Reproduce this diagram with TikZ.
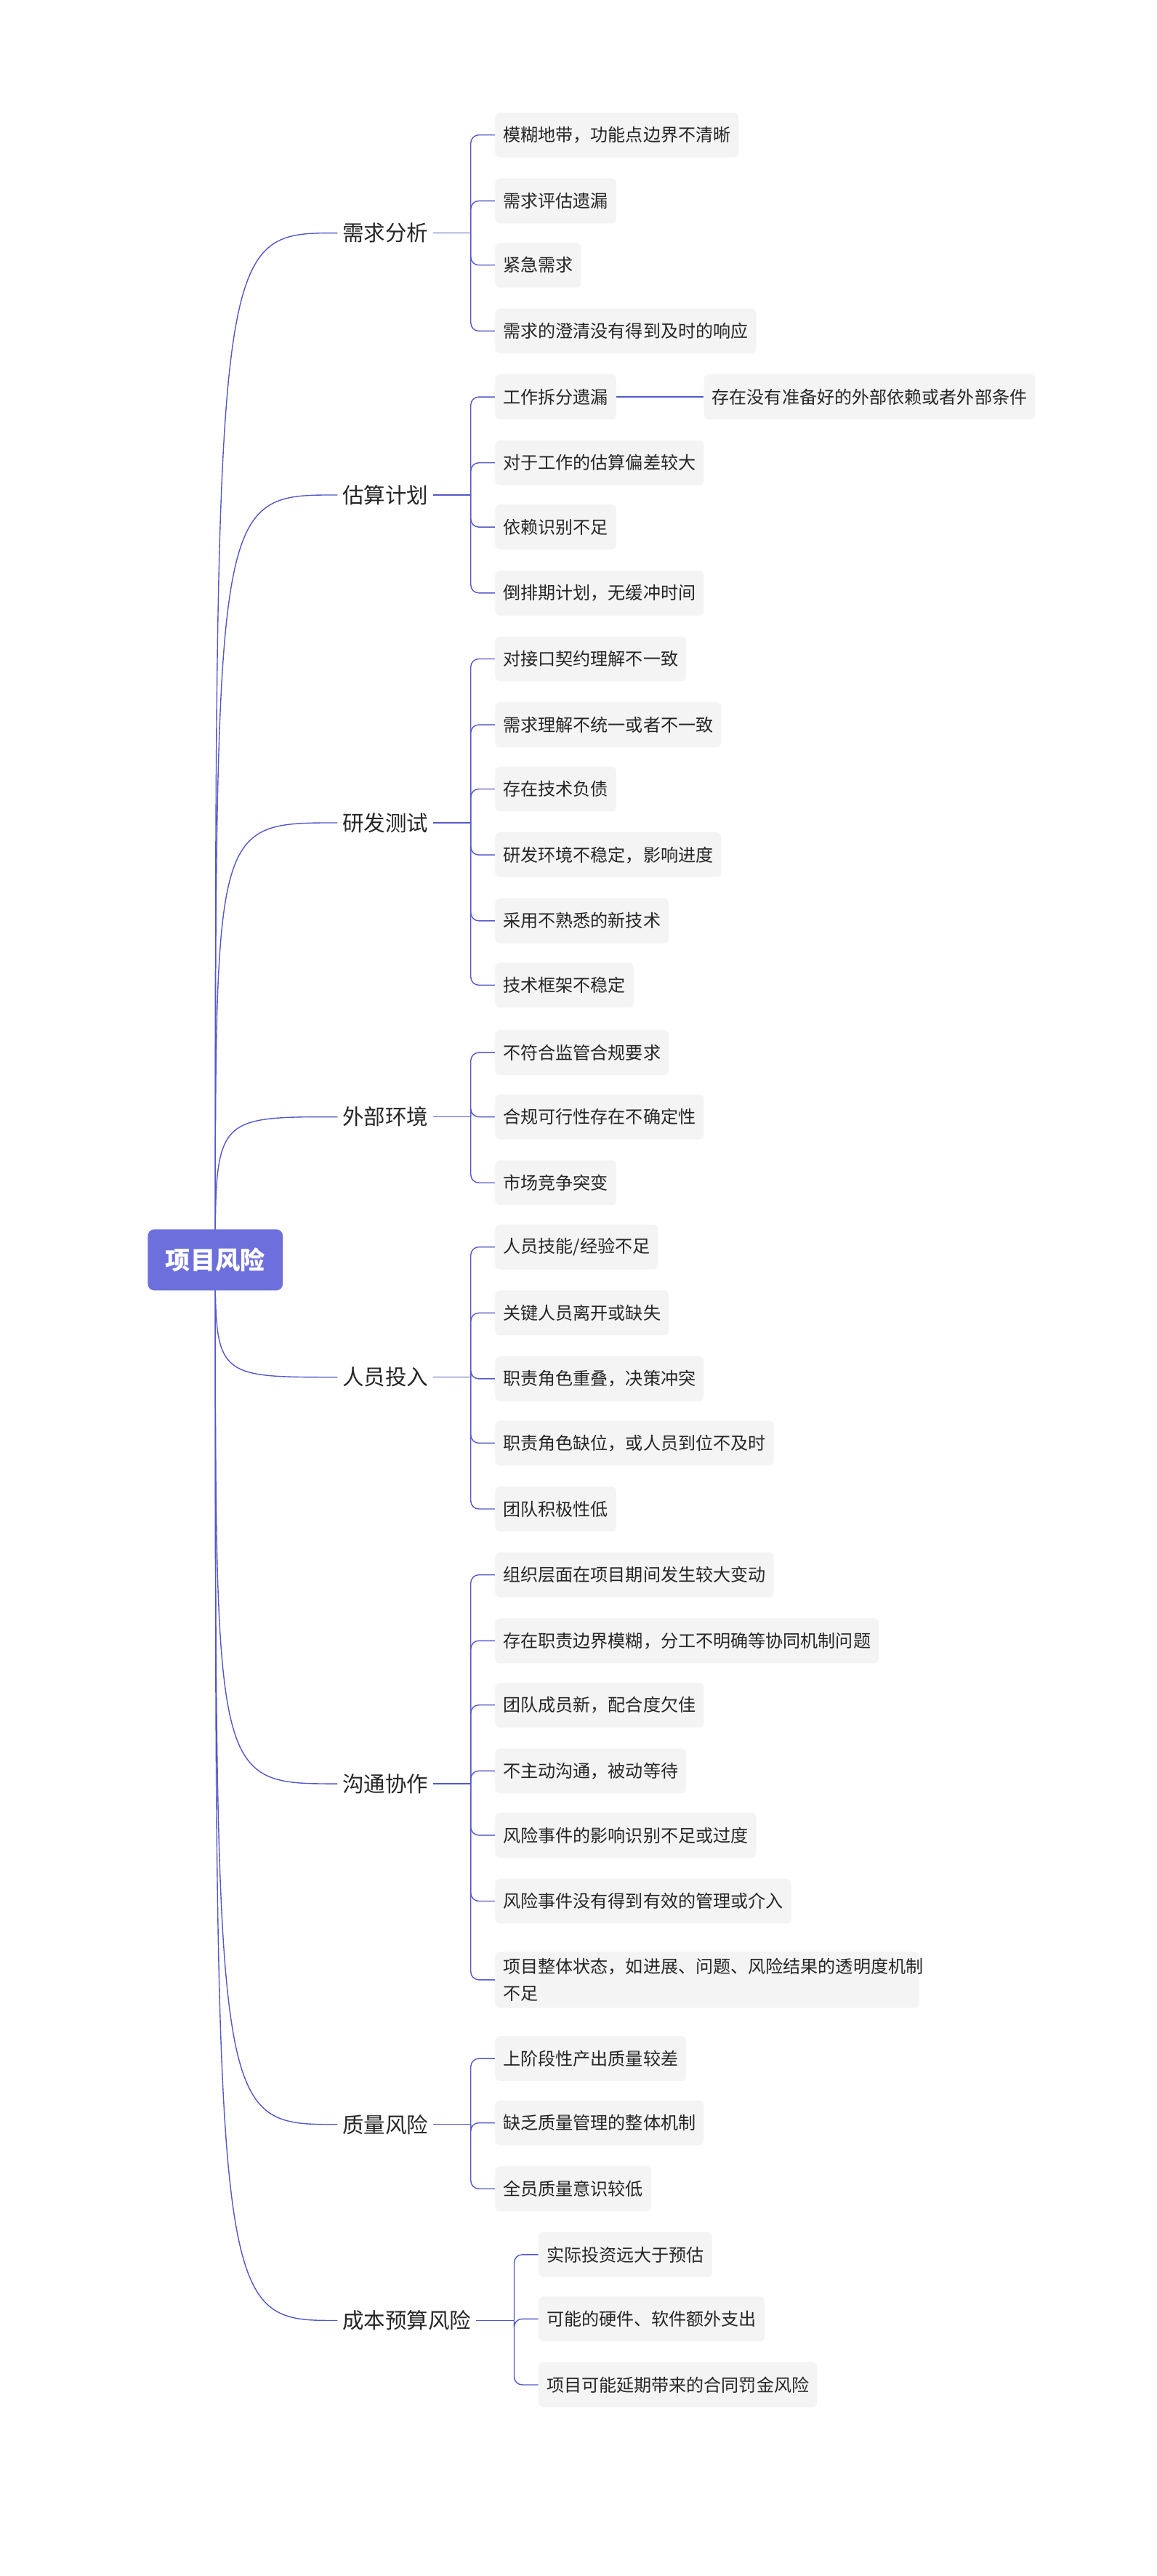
\documentclass[tikz,border=0pt]{standalone}
\usepackage{fontspec}
\setmainfont{Noto Sans CJK SC}
\usetikzlibrary{positioning,calc}
\definecolor{linkblue}{HTML}{5457C9}
\definecolor{rootfill}{HTML}{6D70DC}
\definecolor{leaffill}{HTML}{F4F4F4}
\tikzset{
  rootbox/.style={fill=rootfill,text=white,rounded corners=0.2cm,minimum width=4.2cm,minimum height=1.9cm,font=\fontsize{22}{26}\selectfont\bfseries},
  topic/.style={anchor=west,inner sep=0.15cm,font=\fontsize{19}{23}\selectfont,text=black!85},
  leaf/.style={anchor=west,fill=leaffill,rounded corners=0.15cm,inner xsep=0.25cm,inner ysep=0.2cm,minimum height=1.4cm,font=\fontsize{15.5}{24}\selectfont,text=black!85},
  link/.style={draw=linkblue,line width=0.9pt},
  bracket/.style={link,rounded corners=0.25cm}
}
\begin{document}
\begin{tikzpicture}[x=0.05cm,y=-0.05cm]
\useasboundingbox (0,0) rectangle (720,1603);
\coordinate (rc) at (134,784);
%% topics
\node[topic] (t1) at (210,145) {需求分析};
\node[topic] (t2) at (210,308) {估算计划};
\node[topic] (t3) at (210,512) {研发测试};
\node[topic] (t4) at (210,695) {外部环境};
\node[topic] (t5) at (210,857) {人员投入};
\node[topic] (t6) at (210,1110) {沟通协作};
\node[topic] (t7) at (210,1322) {质量风险};
\node[topic] (t8) at (210,1444) {成本预算风险};
\foreach \t in {t1,t2,t3,t4,t5,t6,t7,t8}
  \draw[link] (rc) .. controls ($(rc|-\t.west)$) .. (\t.west);
\node[rootbox] (root) at (rc) {项目风险};
%% leaves
\foreach \y/\txt [count=\i] in {84/{模糊地带，功能点边界不清晰},125/需求评估遗漏,165/紧急需求,206/需求的澄清没有得到及时的响应}
  \node[leaf] (a\i) at (308,\y) {\txt};
\foreach \y/\txt [count=\i] in {247/工作拆分遗漏,288/对于工作的估算偏差较大,328/依赖识别不足,369/{倒排期计划，无缓冲时间}}
  \node[leaf] (b\i) at (308,\y) {\txt};
\node[leaf] (b11) at (438,247) {存在没有准备好的外部依赖或者外部条件};
\draw[link] (b1.east) -- (b11.west);
\foreach \y/\txt [count=\i] in {410/对接口契约理解不一致,451/需求理解不统一或者不一致,491/存在技术负债,532/{研发环境不稳定，影响进度},573/采用不熟悉的新技术,613/技术框架不稳定}
  \node[leaf] (c\i) at (308,\y) {\txt};
\foreach \y/\txt [count=\i] in {655/不符合监管合规要求,695/合规可行性存在不确定性,736/市场竞争突变}
  \node[leaf] (d\i) at (308,\y) {\txt};
\foreach \y/\txt [count=\i] in {776/{人员技能/经验不足},817/关键人员离开或缺失,858/{职责角色重叠，决策冲突},898/{职责角色缺位，或人员到位不及时},939/团队积极性低}
  \node[leaf] (e\i) at (308,\y) {\txt};
\foreach \y/\txt [count=\i] in {980/组织层面在项目期间发生较大变动,1021/{存在职责边界模糊，分工不明确等协同机制问题},1061/{团队成员新，配合度欠佳},1102/{不主动沟通，被动等待},1142/风险事件的影响识别不足或过度,1183/风险事件没有得到有效的管理或介入}
  \node[leaf] (f\i) at (308,\y) {\txt};
\node[leaf,text width=12.7cm,align=left] (f7) at (308,1232) {项目整体状态，如进展、问题、风险结果的透明度机制\\不足};
\foreach \y/\txt [count=\i] in {1281/上阶段性产出质量较差,1321/缺乏质量管理的整体机制,1362/全员质量意识较低}
  \node[leaf] (g\i) at (308,\y) {\txt};
\foreach \y/\txt [count=\i] in {1403/实际投资远大于预估,1443/{可能的硬件、软件额外支出},1484/项目可能延期带来的合同罚金风险}
  \node[leaf] (h\i) at (335,\y) {\txt};
%% brackets
\coordinate (j1) at (293,145);  \coordinate (j2) at (293,308);
\coordinate (j3) at (293,512);  \coordinate (j4) at (293,695);
\coordinate (j5) at (293,857);  \coordinate (j6) at (293,1110);
\coordinate (j7) at (293,1322); \coordinate (j8) at (320,1444);
\foreach \t/\j/\p/\n in {t1/j1/a/4,t2/j2/b/4,t3/j3/c/6,t4/j4/d/3,t5/j5/e/5,t6/j6/f/7,t7/j7/g/3,t8/j8/h/3}{
  \draw[link] (\t.east) -- (\j);
  \foreach \k in {1,...,\n}
    \draw[bracket] (\j) |- (\p\k.west);
}
\end{tikzpicture}
\end{document}
